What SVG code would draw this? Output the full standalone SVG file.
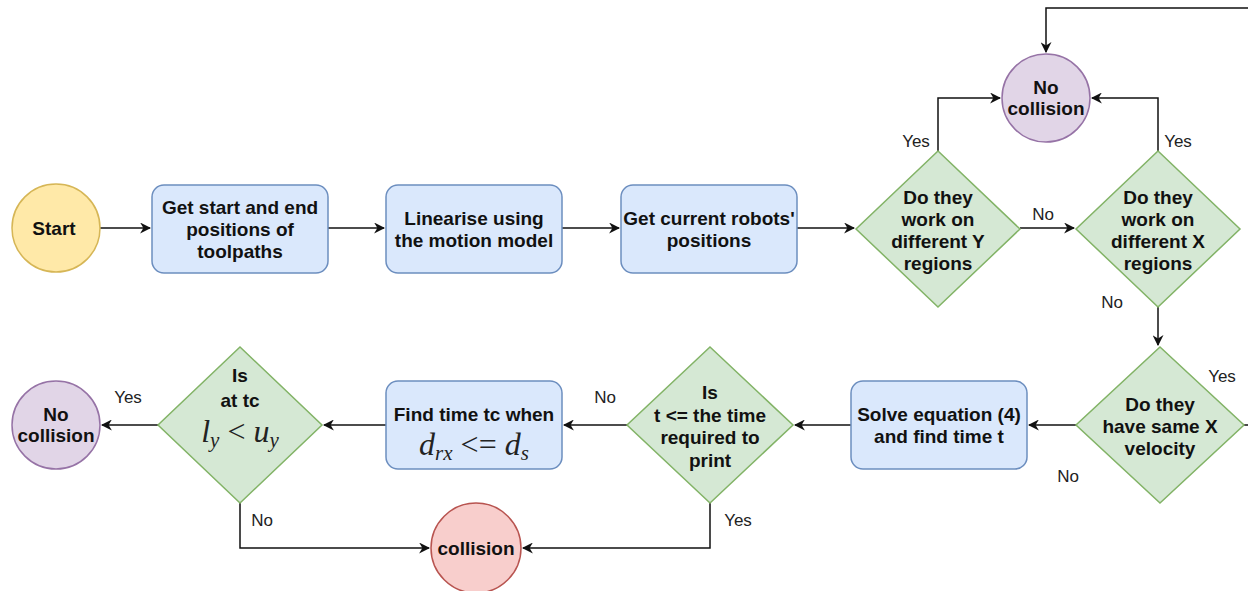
<svg xmlns="http://www.w3.org/2000/svg" width="1248" height="591" viewBox="0 0 1248 591">
<style>
.box{fill:#dae8fc;stroke:#6c8ebf;stroke-width:1.5}
.dia{fill:#d5e8d4;stroke:#82b366;stroke-width:1.5}
.pur{fill:#e1d5e7;stroke:#9673a6;stroke-width:1.5}
.yel{fill:#ffe9a8;stroke:#d6b656;stroke-width:1.5}
.red{fill:#f8cecc;stroke:#b85450;stroke-width:1.5}
.t{font-family:"Liberation Sans",Arial,sans-serif;font-weight:bold;font-size:19px;fill:#111;text-anchor:middle}
.l{font-family:"Liberation Sans",Arial,sans-serif;font-size:17px;fill:#222;text-anchor:middle}
.m{font-family:"Liberation Serif","Times New Roman",serif;font-style:italic;font-size:32px;fill:#222;text-anchor:middle}
.e{fill:none;stroke:#111;stroke-width:1.5}
</style>
<defs>
<marker id="a" viewBox="0 0 10 10" refX="9" refY="5" markerWidth="11" markerHeight="11" markerUnits="userSpaceOnUse" orient="auto">
<path d="M0,0 L10,5 L0,10 L3,5 Z" fill="#111"/>
</marker>
</defs>
<rect width="1248" height="591" fill="#fff"/>
<g id="connectors">
<path class="e" d="M100,228 H150" marker-end="url(#a)"/>
<path class="e" d="M328,228 H384" marker-end="url(#a)"/>
<path class="e" d="M562,228 H619" marker-end="url(#a)"/>
<path class="e" d="M797,228 H854" marker-end="url(#a)"/>
<path class="e" d="M1020,228 H1074" marker-end="url(#a)"/>
<path class="e" d="M938,151 V98 H1000" marker-end="url(#a)"/>
<path class="e" d="M1158,151 V98 H1092" marker-end="url(#a)"/>
<path class="e" d="M1248,8 H1046 V52" marker-end="url(#a)"/>
<path class="e" d="M1158,307 V345" marker-end="url(#a)"/>
<path class="e" d="M1244,425 H1248"/>
<path class="e" d="M1076,425 H1029" marker-end="url(#a)"/>
<path class="e" d="M851,425 H795" marker-end="url(#a)"/>
<path class="e" d="M627,425 H564" marker-end="url(#a)"/>
<path class="e" d="M386,425 H324" marker-end="url(#a)"/>
<path class="e" d="M158,425 H102" marker-end="url(#a)"/>
<path class="e" d="M240,503 V548 H429" marker-end="url(#a)"/>
<path class="e" d="M710,503 V548 H523" marker-end="url(#a)"/>
<text class="l" x="916" y="147">Yes</text>
<text class="l" x="1178" y="147">Yes</text>
<text class="l" x="1043" y="220">No</text>
<text class="l" x="1112" y="308">No</text>
<text class="l" x="1222" y="382">Yes</text>
<text class="l" x="1068" y="482">No</text>
<text class="l" x="605" y="403">No</text>
<text class="l" x="128" y="403">Yes</text>
<text class="l" x="262" y="526">No</text>
<text class="l" x="738" y="526">Yes</text>
</g>
<g id="start"><circle class="yel" cx="56" cy="228" r="44"/><text class="t" x="54" y="235">Start</text></g>
<g id="get-start-end"><rect class="box" x="152" y="185" width="176" height="88" rx="12"/>
<text class="t" x="240" y="214">Get start and end</text><text class="t" x="240" y="236">positions of</text><text class="t" x="240" y="258">toolpaths</text></g>
<g id="linearise"><rect class="box" x="386" y="185" width="176" height="88" rx="12"/>
<text class="t" x="474" y="225">Linearise using</text><text class="t" x="474" y="247">the motion model</text></g>
<g id="get-current"><rect class="box" x="621" y="185" width="176" height="88" rx="12"/>
<text class="t" x="709" y="225">Get current robots'</text><text class="t" x="709" y="247">positions</text></g>
<g id="diff-y"><polygon class="dia" points="938,151 1020,229 938,307 856,229"/>
<text class="t" x="938" y="204">Do they</text><text class="t" x="938" y="226">work on</text><text class="t" x="938" y="248">different Y</text><text class="t" x="938" y="270">regions</text></g>
<g id="diff-x"><polygon class="dia" points="1158,151 1240,229 1158,307 1076,229"/>
<text class="t" x="1158" y="204">Do they</text><text class="t" x="1158" y="226">work on</text><text class="t" x="1158" y="248">different X</text><text class="t" x="1158" y="270">regions</text></g>
<g id="no-collision-top"><circle class="pur" cx="1046" cy="98" r="44"/>
<text class="t" x="1046" y="94">No</text><text class="t" x="1046" y="115">collision</text></g>
<g id="same-x-velocity"><polygon class="dia" points="1160,347 1244,425 1160,503 1076,425"/>
<text class="t" x="1160" y="411">Do they</text><text class="t" x="1160" y="433">have same X</text><text class="t" x="1160" y="455">velocity</text></g>
<g id="solve"><rect class="box" x="851" y="381" width="176" height="88" rx="12"/>
<text class="t" x="939" y="421">Solve equation (4)</text><text class="t" x="939" y="443">and find time t</text></g>
<g id="is-t"><polygon class="dia" points="710,347 793,425 710,503 627,425"/>
<text class="t" x="710" y="399">Is</text><text class="t" x="710" y="422">t &lt;= the time</text><text class="t" x="710" y="444">required to</text><text class="t" x="710" y="467">print</text></g>
<g id="find-tc"><rect class="box" x="386" y="381" width="176" height="88" rx="12"/>
<text class="t" x="474" y="421">Find time tc when</text>
<text class="m" x="474" y="455">d<tspan font-size="21" dy="5">rx</tspan><tspan dy="-5" font-style="normal"> &lt;= </tspan>d<tspan font-size="21" dy="5">s</tspan></text></g>
<g id="is-ly-uy"><polygon class="dia" points="240,347 322,425 240,503 158,425"/>
<text class="t" x="240" y="382">Is</text><text class="t" x="240" y="407">at tc</text>
<text class="m" x="240" y="442">l<tspan font-size="21" dy="5">y</tspan><tspan dy="-5" font-style="normal"> &lt; </tspan>u<tspan font-size="21" dy="5">y</tspan></text></g>
<g id="no-collision-left"><circle class="pur" cx="56" cy="425" r="44"/>
<text class="t" x="56" y="421">No</text><text class="t" x="56" y="442">collision</text></g>
<g id="collision"><circle class="red" cx="476" cy="548" r="45"/><text class="t" x="476" y="555">collision</text></g>
</svg>
